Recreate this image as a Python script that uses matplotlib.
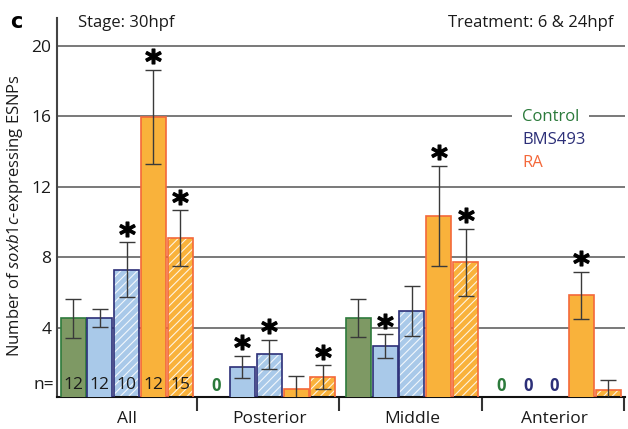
import matplotlib
matplotlib.use("Agg")
import matplotlib.pyplot as plt
import numpy as np

# ---------------- data ----------------
groups = ["All", "Posterior", "Middle", "Anterior"]
conditions = ["Control", "BMS493 6hpf", "BMS493 24hpf", "RA 6hpf", "RA 24hpf"]

all_means = [4.55, 4.58, 7.30, 15.95, 9.10]
posterior_means = [0.0, 1.80, 2.52, 0.55, 1.22]
middle_means = [4.55, 2.95, 4.95, 10.35, 7.73]
anterior_means = [0.0, 0.0, 0.0, 5.84, 0.46]

all_err = [1.10, 0.50, 1.55, 2.67, 1.57]
posterior_err = [0.0, 0.63, 0.82, 0.74, 0.66]
middle_err = [1.08, 0.68, 1.41, 2.82, 1.90]
anterior_err = [0.0, 0.0, 0.0, 1.35, 0.57]

all_sig = [0, 0, 1, 1, 1]
posterior_sig = [0, 1, 1, 0, 1]
middle_sig = [0, 1, 0, 1, 1]
anterior_sig = [0, 0, 0, 1, 0]

n_all = [12, 12, 10, 12, 15]

yticks = [4, 8, 12, 16, 20]

means = [all_means, posterior_means, middle_means, anterior_means]
errs = [all_err, posterior_err, middle_err, anterior_err]
sigs = [all_sig, posterior_sig, middle_sig, anterior_sig]

# ---------------- style ----------------
plt.rcParams['font.family'] = ['Open Sans', 'DejaVu Sans']
plt.rcParams['mathtext.fontset'] = 'custom'
plt.rcParams['mathtext.it'] = 'Open Sans:italic'
plt.rcParams['mathtext.rm'] = 'Open Sans'
plt.rcParams['hatch.linewidth'] = 0.8

face = ["#7e9964", "#a9c9e9", "#a9c9e9", "#f9b23b", "#f9b23b"]
edge = ["#2e7a3c", "#2c2f78", "#2c2f78", "#f4683a", "#f4683a"]
hatched = [False, False, True, False, True]
text_col = {"Control": "#2b7a3b", "BMS493": "#2c2f78", "RA": "#f4683a"}
zero_col = ["#2b7a3b", "#2c2f78", "#2c2f78", "#f4683a", "#f4683a"]
FS = 12

fig = plt.figure(figsize=(6.28, 4.29), dpi=100)
ax = fig.add_axes([57/628, 32/429, (625-57)/628, (411-32)/429])

group_pitch = 5.32
bw = 0.93

ax.set_xlim(-0.6, 20.59)
ax.set_ylim(0.085, 21.57)

for g, gname in enumerate(groups):
    for i in range(5):
        x = g*group_pitch + i
        m = means[g][i]
        e = errs[g][i]
        if m > 0:
            if hatched[i]:
                ax.bar(x, m, width=bw, color=face[i], edgecolor=(1, 1, 1, 0.85),
                       hatch="////", linewidth=0, zorder=2)
                ax.bar(x, m, width=bw, fill=False, edgecolor=edge[i],
                       linewidth=1.2, zorder=3)
            else:
                ax.bar(x, m, width=bw, color=face[i], edgecolor=edge[i],
                       linewidth=1.2, zorder=3)
            ax.errorbar(x, m, yerr=e, fmt="none", ecolor="#3a3a3a",
                        elinewidth=1.0, capsize=6, capthick=1.0, zorder=4)
            if sigs[g][i]:
                ax.plot(x, m + e + 0.78, marker=r"$\mathbf{*}$", markersize=11,
                        color="black", zorder=5, linestyle="none")
        else:
            ax.text(x, 0.72, "0", ha="center", va="center", fontsize=FS,
                    fontweight="bold", color=zero_col[i], zorder=5)

# n labels
for i, n in enumerate(n_all):
    ax.text(i, 0.78, str(n), ha="center", va="center", fontsize=FS+0.5,
            color="#1a1a1a", zorder=6)
ax.text(-0.72, 0.78, "n=", ha="right", va="center", fontsize=FS+0.5,
        color="#1a1a1a", clip_on=False)

# grid
ax.set_yticks(yticks)
ax.set_yticklabels([str(t) for t in yticks], fontsize=FS+0.5, color="#1a1a1a")
ax.yaxis.grid(True, color="#6e6e6e", linewidth=1.3, zorder=0)
ax.set_axisbelow(True)
ax.tick_params(axis="y", length=0, pad=4)

# x ticks
centers = [g*group_pitch + 2 for g in range(4)]
seps = [g*group_pitch + 4.61 for g in range(4)]
ax.set_xticks(centers)
ax.set_xticklabels(groups, fontsize=FS+0.5, color="#1a1a1a")
ax.set_xticks(seps, minor=True)
ax.tick_params(axis="x", which="major", length=0, pad=10)
ax.tick_params(axis="x", which="minor", length=10, width=1.5, direction="out",
               color="#333333")

for s in ["top", "right"]:
    ax.spines[s].set_visible(False)
ax.spines["left"].set_color("#444444")
ax.spines["left"].set_linewidth(1.5)
ax.spines["bottom"].set_color("#111111")
ax.spines["bottom"].set_linewidth(1.5)

ax.set_ylabel(r"Number of $\it{soxb1c}$-expressing ESNPs", fontsize=FS,
              color="#1a1a1a")
ax.yaxis.set_label_coords(-0.0563, 0.479)

# legend-like labels
ax.text(16.75, 15.95, "Control", color=text_col["Control"], fontsize=FS,
        ha="left", va="center", zorder=3,
        bbox=dict(boxstyle="square,pad=0.6", fc="white", ec="none"))
ax.text(16.75, 14.65, "BMS493", color=text_col["BMS493"], fontsize=FS,
        ha="left", va="center", zorder=3)
ax.text(16.75, 13.35, "RA", color=text_col["RA"], fontsize=FS,
        ha="left", va="center", zorder=3)

# header texts
fig.text(78/628, 1 - 23/429, "Stage: 30hpf", fontsize=FS, color="#1a1a1a",
         ha="left", va="center")
fig.text(613/628, 1 - 23/429, "Treatment: 6 & 24hpf", fontsize=FS,
         color="#1a1a1a", ha="right", va="center")
fig.text(10/628, 1 - 22/429, "c", fontsize=15, fontweight="bold",
         color="black", ha="left", va="center", family="DejaVu Sans")

fig.savefig("out.png", dpi=100)
